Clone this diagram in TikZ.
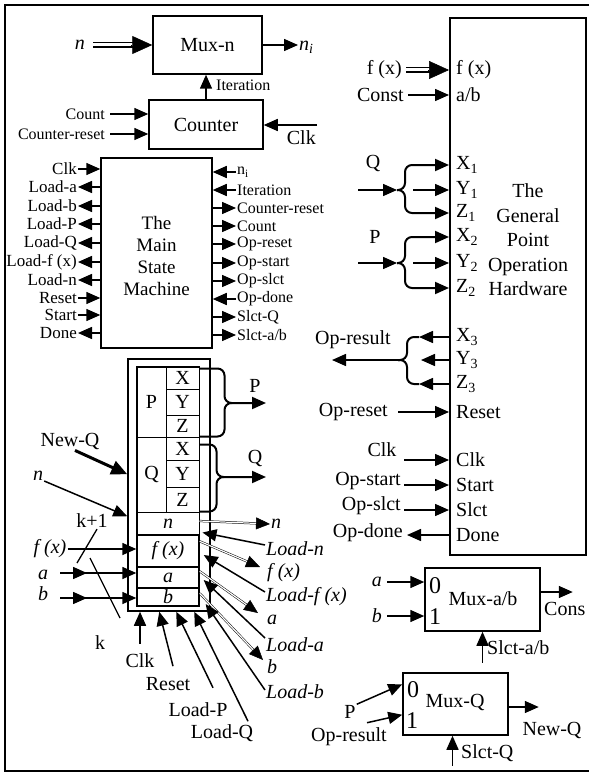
\documentclass[tikz,border=0pt]{standalone}
\usepackage{fontspec}
\setmainfont{Liberation Serif}
\usetikzlibrary{arrows.meta,calc}

\newcommand{\txtbig}{\fontsize{20}{24}\selectfont}
\newcommand{\txtmid}{\fontsize{17}{19}\selectfont}
\newcommand{\txtsml}{\fontsize{16}{18}\selectfont}
\newcommand{\txtnum}{\fontsize{24}{24}\selectfont}

\tikzset{
	box/.style={draw, line width=1.5pt, inner sep=0pt},
	cell/.style={draw, line width=1pt, inner sep=0pt, font=\txtbig},
	lbl/.style={font=\txtbig, inner sep=1pt},
	mlbl/.style={font=\txtmid, inner sep=1pt},
	slbl/.style={font=\txtsml, inner sep=1pt},
	sig/.style={line width=1.5pt, -{Triangle[length=14pt,width=12pt]}},
	sigr/.style={line width=1.5pt, {Triangle[length=14pt,width=12pt]}-},
	bus/.style={double, double distance=3pt, line width=1.7pt},
	bustip/.style={line width=0.5pt, -{Triangle[length=20pt,width=18pt]}},
	wire/.style={double, double distance=1.2pt, line width=0.5pt},
	wiretip/.style={line width=0.5pt, -{Triangle[length=14pt,width=12pt]}},
	brc/.style={line width=2pt, rounded corners=7pt},
}

\begin{document}
\begin{tikzpicture}[x=1pt, y=-1pt]
	\useasboundingbox (0,0) rectangle (589,773);
	\draw[line width=1.2pt] (589,5) -- (5,5) -- (5,771) -- (589,771);

	% Mux-n and counter
	\node[box, font=\txtbig, minimum width=109pt, minimum height=58pt] (muxn) at (207.5,45) {Mux-n};
	\node[lbl, anchor=east] (nmux) at (86,45) {\textit{n}};
	\draw[bus] ($(nmux.east)+(7,0)$) -- ($(muxn.west)+(-18,0)$);
	\draw[bustip] ($(muxn.west)+(-21,0)$) -- (muxn.west);
	\node[lbl, anchor=west] (ni) at (298,47) {\textit{n}\textsubscript{\textit{i}}};
	\draw[sig] (muxn.east) -- (muxn.east -| ni.west);

	\node[box, font=\txtbig, minimum width=114pt, minimum height=49pt] (cnt) at (206,124.5) {Counter};
	\draw[sig] (cnt.north) -- (cnt.north |- muxn.south);
	\node[slbl, anchor=west] (iter) at (215,85) {Iteration};
	\node[slbl, anchor=east] (ccnt) at (106,114) {Count};
	\node[slbl, anchor=east] (crst) at (106,134) {Counter-reset};
	\draw[sig] ($(ccnt.east)+(4,0)$) -- (ccnt.east -| cnt.west);
	\draw[sig] ($(crst.east)+(4,0)$) -- (crst.east -| cnt.west);
	\node[lbl, anchor=north east] (cclk) at (317,129) {Clk};
	\coordinate (cclk0) at ($(cclk.north east)+(0,-4)$);
	\draw[sig] (cclk0) -- (cclk0 -| cnt.east);

	% main state machine
	\node[box, minimum width=111pt, minimum height=190pt] (msm) at (156.5,253) {};
	\node[align=center, font=\fontsize{19}{21.7}\selectfont] (msmtxt) at (156.5,256) {The\\Main\\State\\Machine};

	\node[mlbl, anchor=east] (mclk) at (78,169) {Clk};
	\node[mlbl, anchor=east] (mlda) at (78,187) {Load-a};
	\node[mlbl, anchor=east] (mldb) at (78,206) {Load-b};
	\node[mlbl, anchor=east] (mldp) at (78,224) {Load-P};
	\node[mlbl, anchor=east] (mldq) at (78,243) {Load-Q};
	\node[mlbl, anchor=east] (mldf) at (78,262) {Load-f (x)};
	\node[mlbl, anchor=east] (mldn) at (78,280) {Load-n};
	\node[mlbl, anchor=east] (mrst) at (78,298) {Reset};
	\node[mlbl, anchor=east] (mstr) at (78,315) {Start};
	\node[mlbl, anchor=east] (mdne) at (78,333) {Done};
	\draw[sig] (mclk.east) -- (mclk.east -| msm.west);
	\draw[sigr] (mlda.east) -- (mlda.east -| msm.west);
	\draw[sigr] (mldb.east) -- (mldb.east -| msm.west);
	\draw[sigr] (mldp.east) -- (mldp.east -| msm.west);
	\draw[sigr] (mldq.east) -- (mldq.east -| msm.west);
	\draw[sigr] (mldf.east) -- (mldf.east -| msm.west);
	\draw[sigr] (mldn.east) -- (mldn.east -| msm.west);
	\draw[sig] (mrst.east) -- (mrst.east -| msm.west);
	\draw[sig] (mstr.east) -- (mstr.east -| msm.west);
	\draw[sigr] (mdne.east) -- (mdne.east -| msm.west);

	\node[slbl, anchor=west] (mni) at (236,172) {n\textsubscript{i}};
	\node[slbl, anchor=west] (mitr) at (236,190) {Iteration};
	\node[slbl, anchor=west] (mcrs) at (236,208) {Counter-reset};
	\node[slbl, anchor=west] (mcnt) at (236,226) {Count};
	\node[slbl, anchor=west] (mors) at (236,244) {Op-reset};
	\node[slbl, anchor=west] (most) at (236,263) {Op-start};
	\node[slbl, anchor=west] (mosl) at (236,281) {Op-slct};
	\node[slbl, anchor=west] (modn) at (236,299) {Op-done};
	\node[slbl, anchor=west] (mslq) at (236,317) {Slct-Q};
	\node[slbl, anchor=west] (msab) at (236,335) {Slct-a/b};
	\draw[sig] (mni.west) -- (mni.west -| msm.east);
	\draw[sig] (mitr.west) -- (mitr.west -| msm.east);
	\draw[sigr] (mcrs.west) -- (mcrs.west -| msm.east);
	\draw[sigr] (mcnt.west) -- (mcnt.west -| msm.east);
	\draw[sigr] (mors.west) -- (mors.west -| msm.east);
	\draw[sigr] (most.west) -- (most.west -| msm.east);
	\draw[sigr] (mosl.west) -- (mosl.west -| msm.east);
	\draw[sig] (modn.west) -- (modn.west -| msm.east);
	\draw[sigr] (mslq.west) -- (mslq.west -| msm.east);
	\draw[sigr] (msab.west) -- (msab.west -| msm.east);

	% register block
	\node[box, minimum width=82pt, minimum height=252pt] (reg) at (169,485) {};
	\node[cell, minimum width=29pt, minimum height=70pt] (pb) at (151.5,402) {P};
	\node[cell, minimum width=29pt, minimum height=75pt] (qb) at (151.5,474.5) {Q};
	\node[cell, minimum width=33pt, minimum height=22pt] (px) at (182.5,378) {X};
	\node[cell, minimum width=33pt, minimum height=26pt] (py) at (182.5,402) {Y};
	\node[cell, minimum width=33pt, minimum height=22pt] (pz) at (182.5,426) {Z};
	\node[cell, minimum width=33pt, minimum height=23pt] (qx) at (182.5,448.5) {X};
	\node[cell, minimum width=33pt, minimum height=27pt] (qy) at (182.5,473.5) {Y};
	\node[cell, minimum width=33pt, minimum height=25pt] (qz) at (182.5,499.5) {Z};
	\node[cell, minimum width=62pt, minimum height=23pt] (rn) at (168,523.5) {\textit{n}};
	\node[cell, line width=1.4pt, minimum width=62pt, minimum height=32pt] (rf) at (168,551) {\textit{f (x)}};
	\node[cell, line width=1.4pt, minimum width=62pt, minimum height=21pt] (ra) at (168,577.5) {\textit{a}};
	\node[cell, line width=1.4pt, minimum width=62pt, minimum height=18pt] (rb) at (168,597) {\textit{b}};
	\draw[line width=1.5pt] (pb.north west) rectangle (rb.south east);

	\node[lbl] (plab) at (255,386) {P};
	\coordinate (pend) at (266,403);
	\draw[sig, brc] ($(px.north east)+(0,2)$) -- ++(25,0) |- (pend);
	\draw[brc] ($(pz.south east)+(0,-1)$) -- ++(25,0) |- ($(pend)+(-34,0)$);
	\node[lbl] (qlab) at (255,458) {Q};
	\coordinate (qend) at (266,477);
	\draw[sig, brc] ($(qx.north east)+(0,8)$) -- ++(17,0) |- (qend);
	\draw[brc] ($(qz.south east)+(0,-1)$) -- ++(17,0) |- ($(qend)+(-42,0)$);

	\node[lbl] (newq) at (70,441) {New-Q};
	\draw[line width=3pt, -{Triangle[length=16pt,width=14pt]}] ([xshift=5pt]newq.south) -- ($(reg.north west)+(0,116)$);
	\node[lbl] (nreg) at (38,476) {\textit{n}};
	\draw[sig] ([yshift=-5pt]nreg.east) -- ($(reg.north west)+(0,158)$);
	\node[lbl] (kp) at (92,521) {k+1};
	\coordinate (kpe) at (77,563);
	\draw[line width=1.3pt] ([xshift=5pt]kp.south) -- (kpe);
	\node[lbl] (kl) at (100,643) {k};
	\coordinate (kl0) at (90,558);
	\coordinate (kl1) at (120,618);
	\draw[line width=1.3pt] (kl0) -- (kl1);
	\node[lbl] (fxr) at (50,549) {\textit{f (x)}};
	\draw[sig] (fxr.east) -- (fxr.east -| rf.west);
	\node[lbl] (ar) at (43,575) {\textit{a}};
	\coordinate (a0) at (60,573);
	\draw[sig] (a0) -- ++(27,0);
	\draw[sig] (a0) -- (a0 -| ra.west);
	\node[lbl] (br) at (43,594) {\textit{b}};
	\coordinate (b0) at (60,598);
	\draw[sig] (b0) -- ++(27,0);
	\draw[sig] (b0) -- (b0 -| rb.west);

	\node[lbl] (rclk) at (140,661) {Clk};
	\draw[sig] ([yshift=9pt]rclk.north) -- (rclk.north |- reg.south);
	\node[lbl] (rrst) at (168,684) {Reset};
	\draw[sig] ([xshift=5pt,yshift=10pt]rrst.north) -- ($(reg.south west)+(32,0)$);
	\node[lbl] (rldp) at (198,710) {Load-P};
	\draw[sig] ([xshift=15pt,yshift=14pt]rldp.north) -- ($(reg.south west)+(49,0)$);
	\node[lbl] (rldq) at (222,733) {Load-Q};
	\draw[sig] ([xshift=26pt,yshift=2pt]rldq.north) -- ($(reg.south west)+(67,0)$);

	\node[lbl, anchor=west] (on) at (270,524) {\textit{n}};
	\node[lbl, anchor=west] (ldn) at (265,549) {\textit{Load-n}};
	\node[lbl, anchor=west] (of) at (266,573) {\textit{f (x)}};
	\node[lbl, anchor=west] (ldf) at (265,597) {\textit{Load-f (x)}};
	\node[lbl, anchor=west] (oa) at (266,620) {\textit{a}};
	\node[lbl, anchor=west] (lda) at (265,645) {\textit{Load-a}};
	\node[lbl, anchor=west] (ob) at (266,667) {\textit{b}};
	\node[lbl, anchor=west] (ldb) at (265,692) {\textit{Load-b}};

	\coordinate (wn0) at ($(rn.east)+(0,-2.5)$);
	\coordinate (wf0) at ($(rf.north east)+(0,7)$);
	\coordinate (wf1) at (260,567);
	\coordinate (wa0) at ($(ra.north east)+(0,5)$);
	\coordinate (wa1) at (258,613);
	\coordinate (wb0) at ($(rb.north east)+(0,6)$);
	\coordinate (wb1) at (263,660);
	\draw[wire, shorten >=11pt] (wn0) -- (on.west);
	\draw[wiretip] ($(on.west)!14pt!(wn0)$) -- (on.west);
	\draw[wire, shorten >=11pt] (wf0) -- (wf1);
	\draw[wiretip] ($(wf1)!14pt!(wf0)$) -- (wf1);
	\draw[wire, shorten >=11pt] (wa0) -- (wa1);
	\draw[wiretip] ($(wa1)!14pt!(wa0)$) -- (wa1);
	\draw[wire, shorten >=11pt] (wb0) -- (wb1);
	\draw[wiretip] ($(wb1)!14pt!(wb0)$) -- (wb1);
	\draw[sig] ([yshift=4pt]ldn.west) -- ($(rn.south east)+(3,-3)$);
	\draw[sig] ([yshift=5pt]ldf.west) -- ($(rf.east)+(4,4)$);
	\draw[sig] ([yshift=7pt]lda.west) -- ($(ra.east)+(4,2.5)$);
	\draw[sig] ([yshift=2pt]ldb.west) -- ($(rb.east)+(6,7)$);

	% general point operation hardware
	\node[box, line width=2pt, minimum width=136pt, minimum height=537pt] (hw) at (518,286.5) {};
	\node[align=center, font=\fontsize{20}{24.5}\selectfont] (hwtxt) at (528,240) {The\\General\\Point\\Operation\\Hardware};

	\node[lbl, anchor=west] (hfx) at (455,70) {f (x)};
	\node[lbl, anchor=west] (hab) at (455,95) {a/b};
	\node[lbl, anchor=west] (hx1) at (455,165) {X\textsubscript{1}};
	\node[lbl, anchor=west] (hy1) at (455,190) {Y\textsubscript{1}};
	\node[lbl, anchor=west] (hz1) at (455,213) {Z\textsubscript{1}};
	\node[lbl, anchor=west] (hx2) at (455,237) {X\textsubscript{2}};
	\node[lbl, anchor=west] (hy2) at (455,263) {Y\textsubscript{2}};
	\node[lbl, anchor=west] (hz2) at (455,288) {Z\textsubscript{2}};
	\node[lbl, anchor=west] (hx3) at (455,337) {X\textsubscript{3}};
	\node[lbl, anchor=west] (hy3) at (455,360) {Y\textsubscript{3}};
	\node[lbl, anchor=west] (hz3) at (455,384) {Z\textsubscript{3}};
	\node[lbl, anchor=west] (hrs) at (455,412) {Reset};
	\node[lbl, anchor=west] (hck) at (455,460) {Clk};
	\node[lbl, anchor=west] (hst) at (455,485) {Start};
	\node[lbl, anchor=west] (hsl) at (455,510) {Slct};
	\node[lbl, anchor=west] (hdn) at (455,535) {Done};

	\node[lbl, anchor=east] (fxl) at (403,70) {f (x)};
	\draw[bus] ($(fxl.east)+(3,0)$) -- ($(fxl.east -| hw.west)+(-18,0)$);
	\draw[bustip] ($(fxl.east -| hw.west)+(-21,0)$) -- (fxl.east -| hw.west);
	\node[lbl, anchor=east] (cst) at (405,95) {Const};
	\draw[sig] ($(cst.east)+(3,0)$) -- (cst.east -| hw.west);

	\node[lbl] (qin) at (373,163) {Q};
	\coordinate (qc) at (397,190);
	\draw[sig] ($(qc)+(-39,0)$) -- (qc);
	\draw[sig, brc] (qc) -- ++(8,0) |- (hw.west |- hx1);
	\draw[sig, brc] (qc) -- ++(8,0) |- (hw.west |- hz1);
	\draw[sig] ($(hw.west |- hy1)+(-36,0)$) -- (hw.west |- hy1);

	\node[lbl] (pin) at (375,237) {P};
	\coordinate (pc) at (397,263);
	\draw[sig] ($(pc)+(-39,0)$) -- (pc);
	\draw[sig, brc] (pc) -- ++(8,0) |- (hw.west |- hx2);
	\draw[sig, brc] (pc) -- ++(8,0) |- (hw.west |- hz2);
	\draw[sig] ($(hw.west |- hy2)+(-36,0)$) -- (hw.west |- hy2);

	\node[lbl] (opr) at (353,340) {Op-result};
	\coordinate (oc) at (398,360);
	\draw[sig] (hw.west |- hx3) -- ++(-30,0);
	\draw[sig] (hw.west |- hy3) -- ++(-28,0);
	\draw[sig] (hw.west |- hz3) -- ++(-30,0);
	\draw[brc] ($(hw.west |- hx3)+(-30,0)$) -| ($(oc)+(9,0)$) -- (oc);
	\draw[brc] ($(hw.west |- hz3)+(-30,0)$) -| ($(oc)+(9,0)$) -- (oc);
	\draw[sig] (oc) -- ++(-66,0);

	\node[lbl, anchor=east] (oprs) at (389,412) {Op-reset};
	\draw[sig] ($(oprs.east)+(9,0)$) -- (oprs.east -| hw.west);
	\node[lbl] (hcl) at (382,450) {Clk};
	\draw[sig] ($(hw.west |- hck)+(-45,0)$) -- (hw.west |- hck);
	\node[lbl, anchor=east] (opst) at (402,481) {Op-start};
	\draw[sig] ($(hw.west |- hst)+(-45,0)$) -- (hw.west |- hst);
	\node[lbl, anchor=east] (opsl) at (402,506) {Op-slct};
	\draw[sig] ($(hw.west |- hsl)+(-45,0)$) -- (hw.west |- hsl);
	\node[lbl, anchor=east] (opdn) at (404,533) {Op-done};
	\draw[sigr] ($(hw.west |- hdn)+(-42,0)$) -- (hw.west |- hdn);

	% Mux-a/b
	\node[box, minimum width=115pt, minimum height=63pt] (muxab) at (482.5,599.5) {};
	\node[lbl] (muxabt) at (483,599) {Mux-a/b};
	\node[font=\txtnum, inner sep=0pt] (mab0) at (435,586) {0};
	\node[font=\txtnum, inner sep=0pt] (mab1) at (435,617) {1};
	\node[lbl, anchor=east] (ain) at (383,582) {\textit{a}};
	\node[lbl, anchor=east] (bin) at (383,616) {\textit{b}};
	\draw[sig] ($(ain.east)+(4,0)$) -- (ain.east -| muxab.west);
	\draw[sig] ($(bin.east)+(4,0)$) -- (bin.east -| muxab.west);
	\draw[sig] ([yshift=7.5pt]muxab.east) -- ++(32,0);
	\node[lbl, anchor=west] (cons) at (543,609) {Cons};
	\node[lbl, anchor=west] (slab) at (486,648) {Slct-a/b};
	\draw[sig] ([yshift=-31pt]muxab.south) -- (muxab.south);

	% Mux-Q
	\node[box, minimum width=105pt, minimum height=62pt] (muxq) at (455.5,704) {};
	\node[lbl] (muxqt) at (455,702) {Mux-Q};
	\node[font=\txtnum, inner sep=0pt] (mq0) at (413,690) {0};
	\node[font=\txtnum, inner sep=0pt] (mq1) at (412,721) {1};
	\node[lbl] (pq) at (350,712) {P};
	\draw[sig] (pq.north east) -- ($(muxq.north west)+(0,12)$);
	\node[lbl] (orq) at (349,737) {Op-result};
	\draw[sig] ([xshift=18pt,yshift=4pt]orq.north) -- ($(muxq.south west)+(0,-21)$);
	\draw[sig] ([yshift=-3pt]muxq.east) -- ++(30,0);
	\node[lbl] (nq) at (552,730) {New-Q};
	\draw[sig] ([xshift=-3pt,yshift=-30pt]muxq.south) -- ([xshift=-3pt]muxq.south);
	\node[lbl, anchor=west] (slq) at (460,753) {Slct-Q};
\end{tikzpicture}
\end{document}
